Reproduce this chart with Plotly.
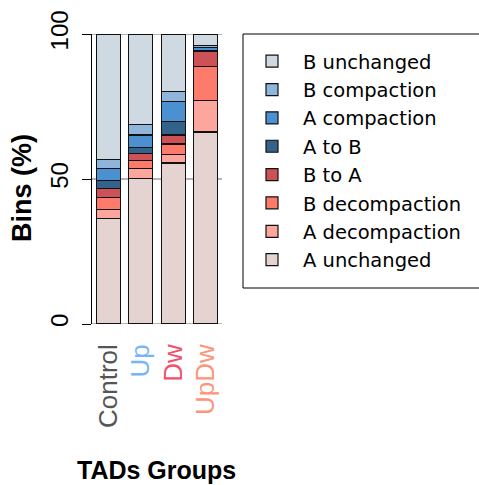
import plotly.graph_objects as go

# TAD groups on the x axis and the colour of each group label
groups = ["Control", "Up", "Dw", "UpDw"]
group_colors = ["#555555", "#76b4f6", "#f2506b", "#fd9579"]

# Share of bins (%) per compartment change class, bottom of the stack first
A_unchanged = [36.5, 50.3, 55.5, 66.2]
A_decompaction = [3.1, 3.2, 3.0, 10.8]
B_decompaction = [3.9, 2.8, 3.6, 11.7]
B_to_A = [3.1, 2.6, 3.1, 5.3]
A_to_B = [2.8, 2.1, 4.7, 0.3]
A_compaction = [4.3, 4.2, 6.7, 1.1]
B_compaction = [3.1, 3.7, 3.7, 0.6]
B_unchanged = [43.2, 31.1, 19.7, 4.0]

series = [
    ("A unchanged", A_unchanged, "#e5d3d2"),
    ("A decompaction", A_decompaction, "#fca69d"),
    ("B decompaction", B_decompaction, "#fd7b6b"),
    ("B to A", B_to_A, "#cc5257"),
    ("A to B", A_to_B, "#33628b"),
    ("A compaction", A_compaction, "#4b90d0"),
    ("B compaction", B_compaction, "#8fb6da"),
    ("B unchanged", B_unchanged, "#cfd9e2"),
]

y_ticks = [0, 50, 100]

W, H = 479, 485
FONT = "Liberation Sans, Arial, Helvetica, sans-serif"
LEGEND_FONT = "DejaVu Sans, Liberation Sans, sans-serif"

fig = go.Figure()
for name, vals, col in series:
    fig.add_trace(go.Bar(
        x=list(range(len(groups))), y=vals, name=name,
        width=0.73,
        marker=dict(color=col, line=dict(color="#111111", width=1.2)),
    ))

x0, x1 = 92, 222   # plot area in pixels
y0, y1 = 34, 324

# grey reference lines at every y tick, behind the bars
shapes = [
    dict(type="line", xref="x domain", yref="y", x0=0, x1=1, y0=v, y1=v,
         line=dict(color="#b5b5b5", width=2), layer="below")
    for v in y_ticks
]
# legend frame, running off the right edge
shapes.append(dict(type="rect", xref="paper", yref="paper",
                   x0=243 / W, x1=1.05, y0=1 - 288 / H, y1=1 - 34 / H,
                   line=dict(color="black", width=1), fillcolor="rgba(0,0,0,0)",
                   layer="above"))

fig.update_layout(
    width=W, height=H,
    margin=dict(l=0, r=0, t=0, b=0),
    plot_bgcolor="white", paper_bgcolor="white",
    barmode="stack",
    font=dict(family=FONT, color="black"),
    xaxis=dict(
        domain=[x0 / W, x1 / W],
        range=[-0.5, 3.5],
        tickvals=list(range(len(groups))),
        ticktext=[f'<span style="color:{c}">{g}</span>' for g, c in zip(groups, group_colors)],
        tickangle=-90,
        tickfont=dict(size=26),
        ticks="",
        ticklabelstandoff=14,
        showline=False, showgrid=False, zeroline=False,
        automargin=False,
    ),
    yaxis=dict(
        domain=[1 - y1 / H, 1 - y0 / H],
        range=[0, 100],
        tickvals=y_ticks,
        ticktext=[str(v) for v in y_ticks],
        tickangle=-90,
        tickfont=dict(size=24),
        ticks="outside", ticklen=9, tickcolor="black", tickwidth=1,
        ticklabelstandoff=4,
        showline=True, linecolor="black", linewidth=1,
        showgrid=False,
        zeroline=False,
        automargin=False,
    ),
    legend=dict(
        x=241 / W, y=1 - 42 / H, xanchor="left", yanchor="top",
        traceorder="reversed",
        itemwidth=52,
        font=dict(size=19.5, family=LEGEND_FONT),
        borderwidth=0,
        bgcolor="rgba(0,0,0,0)",
    ),
    showlegend=True,
    shapes=shapes,
    annotations=[
        dict(text="<b>Bins (%)</b>", x=22 / W, y=1 - 188 / H,
             xref="paper", yref="paper", showarrow=False,
             textangle=-90, font=dict(size=27, family=FONT),
             xanchor="center", yanchor="middle"),
        dict(text="<b>TADs Groups</b>", x=156 / W, y=1 - 470 / H,
             xref="paper", yref="paper", showarrow=False,
             font=dict(size=25, family=FONT),
             xanchor="center", yanchor="middle"),
    ],
)

fig.write_html("out.html")
